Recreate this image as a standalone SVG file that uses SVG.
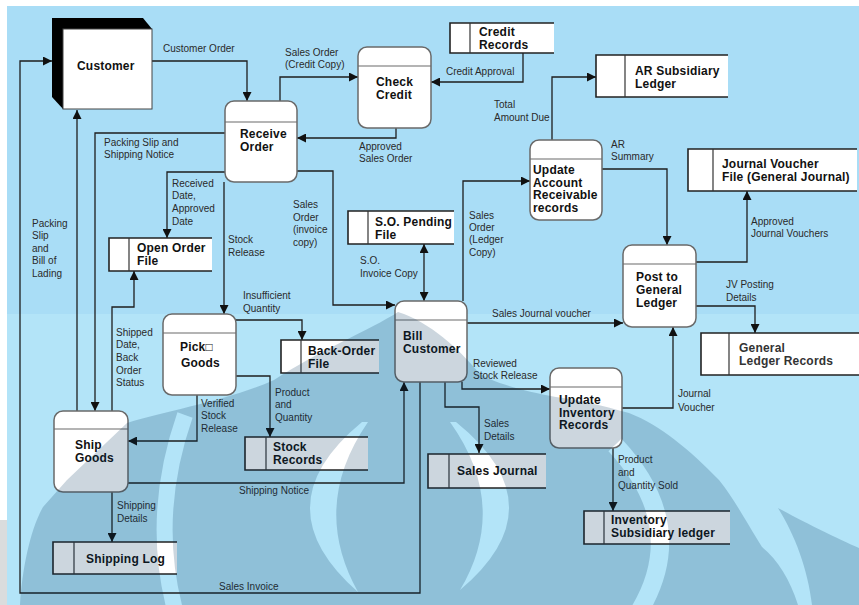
<svg xmlns="http://www.w3.org/2000/svg" width="859" height="605" viewBox="0 0 859 605">
<defs>
<style>
.lbl{font-family:"Liberation Sans",Arial,sans-serif;font-size:10px;fill:#2a2a2a}
.nt{font-family:"Liberation Sans",Arial,sans-serif;font-size:12px;font-weight:bold;fill:#111;letter-spacing:0.2px}
.proc{fill:#fff;stroke:#6a6a6a;stroke-width:1.5}
.hdr{stroke:#6a6a6a;stroke-width:1.2}
.sfill{fill:#fff}
.sedge{fill:none;stroke:#222;stroke-width:1.6}
.sdiv{stroke:#333;stroke-width:1.2}
.cn{fill:none;stroke:#1e1e1e;stroke-width:1.3}
</style>
<marker id="ah" viewBox="0 0 10 10" refX="10" refY="5" markerWidth="9" markerHeight="9" markerUnits="userSpaceOnUse" orient="auto-start-reverse">
<path d="M0,0 L10,5 L0,10 Z" fill="#111"/>
</marker>
<mask id="wm" maskUnits="userSpaceOnUse" x="0" y="0" width="859" height="605">
<path fill="#fff" d="M 398 312 C 370 330 320 350 274 380 C 230 400 170 410 127 423 L 67 480 L 43 507 C 30 530 22 570 20 605 L 798 605 C 790 580 778 560 762 547 C 745 520 735 500 719 480 C 690 450 660 425 629 413 C 600 405 580 400 556 397 C 520 390 490 382 478 372 C 460 350 430 322 398 312 Z"/>
<path fill="#fff" d="M 778 508 C 800 520 840 540 859 548 L 859 605 L 812 605 C 808 570 795 535 778 508 Z"/>
<path fill="#000" d="M 362 422 Q 260 506 358 592 Q 310 506 368 422 Z"/>
<path fill="#000" d="M 456 422 Q 560 506 460 590 Q 510 506 450 422 Z"/>
<path fill="none" stroke="#000" stroke-width="16" d="M 185 415 Q 150 515 175 610"/>
<path fill="none" stroke="#000" stroke-width="18" d="M 615 445 Q 690 525 640 610"/>
</mask>
</defs>

<g id="background">
<rect width="859" height="605" fill="#fff"/>
<rect x="7" y="6" width="852" height="308" fill="#a9ddf6"/>
<rect x="7" y="314" width="852" height="291" fill="#b3e4f8"/>
<rect x="0" y="520" width="7" height="85" fill="#dadcdd"/>
</g>

<g id="connectors">
<polyline class="cn" points="152,61 247,61 247,101" marker-end="url(#ah)"/>
<polyline class="cn" points="280,101 280,77 358,77" marker-end="url(#ah)"/>
<polyline class="cn" points="523,53 523,82 431,82" marker-end="url(#ah)"/>
<polyline class="cn" points="396,128 396,138 297,138" marker-end="url(#ah)"/>
<polyline class="cn" points="552,140 552,77 596,77" marker-end="url(#ah)"/>
<polyline class="cn" points="602,169 667,169 667,245" marker-end="url(#ah)"/>
<polyline class="cn" points="463,301 463,181 530,181" marker-end="url(#ah)"/>
<polyline class="cn" points="696,262 747,262 747,191" marker-end="url(#ah)"/>
<polyline class="cn" points="696,306 755,306 755,333" marker-end="url(#ah)"/>
<polyline class="cn" points="467,323 623,323" marker-end="url(#ah)"/>
<polyline class="cn" points="622,408 673,408 673,327" marker-end="url(#ah)"/>
<polyline class="cn" points="462,382 462,389 550,389" marker-end="url(#ah)"/>
<polyline class="cn" points="613,448 613,511" marker-end="url(#ah)"/>
<polyline class="cn" points="445,382 445,407 479,407 479,453" marker-end="url(#ah)"/>
<polyline class="cn" points="420,382 420,593 20,593 20,61 52,61" marker-end="url(#ah)"/>
<polyline class="cn" points="128,483 404,483 404,382" marker-end="url(#ah)"/>
<polyline class="cn" points="112,492 112,542" marker-end="url(#ah)"/>
<polyline class="cn" points="197,395 197,441 128,441" marker-end="url(#ah)"/>
<polyline class="cn" points="236,376 270,376 270,437" marker-end="url(#ah)"/>
<polyline class="cn" points="236,320 302,320 302,340" marker-end="url(#ah)"/>
<polyline class="cn" points="224,182 224,314" marker-end="url(#ah)"/>
<polyline class="cn" points="225,172 167,172 167,238" marker-end="url(#ah)"/>
<polyline class="cn" points="225,133 95,133 95,411" marker-end="url(#ah)"/>
<polyline class="cn" points="77,411 77,110" marker-end="url(#ah)"/>
<polyline class="cn" points="112,411 112,307 134,307 134,271" marker-end="url(#ah)"/>
<polyline class="cn" points="297,171 333,171 333,305 395,305" marker-end="url(#ah)"/>
<polyline class="cn" points="424,244 424,301" marker-start="url(#ah)" marker-end="url(#ah)"/>
</g>

<g id="labels">
<text class="lbl" x="163" y="52">Customer Order</text>
<text class="lbl" x="285" y="56">Sales Order<tspan x="285" y="68">(Credit Copy)</tspan></text>
<text class="lbl" x="446" y="75">Credit Approval</text>
<text class="lbl" x="359" y="150">Approved<tspan x="359" y="162">Sales Order</tspan></text>
<text class="lbl" x="494" y="108">Total<tspan x="494" y="121">Amount Due</tspan></text>
<text class="lbl" x="611" y="148">AR<tspan x="611" y="160">Summary</tspan></text>
<text class="lbl" x="469" y="219">Sales<tspan x="469" y="231">Order</tspan><tspan x="469" y="243">(Ledger</tspan><tspan x="469" y="256">Copy)</tspan></text>
<text class="lbl" x="751" y="225">Approved<tspan x="751" y="237">Journal Vouchers</tspan></text>
<text class="lbl" x="726" y="288">JV Posting<tspan x="726" y="301">Details</tspan></text>
<text class="lbl" x="492" y="317">Sales Journal voucher</text>
<text class="lbl" x="678" y="397">Journal<tspan x="678" y="411">Voucher</tspan></text>
<text class="lbl" x="473" y="367">Reviewed<tspan x="473" y="379">Stock Release</tspan></text>
<text class="lbl" x="618" y="463">Product<tspan x="618" y="476">and</tspan><tspan x="618" y="489">Quantity Sold</tspan></text>
<text class="lbl" x="484" y="427">Sales<tspan x="484" y="440">Details</tspan></text>
<text class="lbl" x="219" y="590">Sales Invoice</text>
<text class="lbl" x="239" y="494">Shipping Notice</text>
<text class="lbl" x="117" y="509">Shipping<tspan x="117" y="522">Details</tspan></text>
<text class="lbl" x="201" y="407">Verified<tspan x="201" y="419">Stock</tspan><tspan x="201" y="432">Release</tspan></text>
<text class="lbl" x="275" y="396">Product<tspan x="275" y="408">and</tspan><tspan x="275" y="421">Quantity</tspan></text>
<text class="lbl" x="243" y="299">Insufficient<tspan x="243" y="312">Quantity</tspan></text>
<text class="lbl" x="228" y="243">Stock<tspan x="228" y="256">Release</tspan></text>
<text class="lbl" x="172" y="187">Received<tspan x="172" y="199">Date,</tspan><tspan x="172" y="212">Approved</tspan><tspan x="172" y="225">Date</tspan></text>
<text class="lbl" x="104" y="146">Packing Slip and<tspan x="104" y="158">Shipping Notice</tspan></text>
<text class="lbl" x="32" y="227">Packing<tspan x="32" y="239">Slip</tspan><tspan x="32" y="252">and</tspan><tspan x="32" y="264">Bill of</tspan><tspan x="32" y="277">Lading</tspan></text>
<text class="lbl" x="116" y="336">Shipped<tspan x="116" y="348">Date,</tspan><tspan x="116" y="361">Back</tspan><tspan x="116" y="374">Order</tspan><tspan x="116" y="386">Status</tspan></text>
<text class="lbl" x="293" y="208">Sales<tspan x="293" y="221">Order</tspan><tspan x="293" y="233">(invoice</tspan><tspan x="293" y="246">copy)</tspan></text>
<text class="lbl" x="360" y="264">S.O.<tspan x="360" y="277">Invoice Copy</tspan></text>
</g>

<g id="customer">
<polygon points="52,18 143,18 152,29 152,109 63,109 52,97" fill="#000"/>
<rect x="63" y="29" width="89" height="80" fill="#fff" stroke="#444" stroke-width="1"/>
<text class="nt" x="77" y="70">Customer</text>
</g>

<g id="receive-order">
<rect class="proc" x="225" y="101" width="72" height="81" rx="9"/>
<line class="hdr" x1="225" y1="122" x2="297" y2="122"/>
<text class="nt" x="240" y="138">Receive<tspan x="240" y="151">Order</tspan></text>
</g>
<g id="check-credit">
<rect class="proc" x="358" y="47" width="73" height="81" rx="9"/>
<line class="hdr" x1="358" y1="66" x2="431" y2="66"/>
<text class="nt" x="376" y="86">Check<tspan x="376" y="99">Credit</tspan></text>
</g>
<g id="update-ar">
<rect class="proc" x="530" y="140" width="72" height="80" rx="9"/>
<line class="hdr" x1="530" y1="159" x2="602" y2="159"/>
<text class="nt" x="533" y="174">Update<tspan x="533" y="186.5">Account</tspan><tspan x="533" y="199">Receivable</tspan><tspan x="533" y="211.5">records</tspan></text>
</g>
<g id="post-gl">
<rect class="proc" x="623" y="245" width="73" height="82" rx="9"/>
<line class="hdr" x1="623" y1="264" x2="696" y2="264"/>
<text class="nt" x="636" y="281">Post to<tspan x="636" y="294">General</tspan><tspan x="636" y="307">Ledger</tspan></text>
</g>
<g id="bill-customer">
<rect class="proc" x="395" y="301" width="72" height="81" rx="9"/>
<line class="hdr" x1="395" y1="320" x2="467" y2="320"/>
<text class="nt" x="403" y="340">Bill<tspan x="403" y="353">Customer</tspan></text>
</g>
<g id="pick-goods">
<rect class="proc" x="163" y="314" width="73" height="81" rx="9"/>
<line class="hdr" x1="163" y1="333" x2="236" y2="333"/>
<text class="nt" x="180" y="351">Pick□<tspan x="181" y="367">Goods</tspan></text>
</g>
<g id="ship-goods">
<rect class="proc" x="54" y="411" width="74" height="81" rx="9"/>
<line class="hdr" x1="54" y1="429" x2="128" y2="429"/>
<text class="nt" x="75" y="449">Ship<tspan x="75" y="462">Goods</tspan></text>
</g>
<g id="update-inventory">
<rect class="proc" x="550" y="368" width="72" height="80" rx="9"/>
<line class="hdr" x1="550" y1="387" x2="622" y2="387"/>
<text class="nt" x="559" y="404">Update<tspan x="559" y="416.5">Inventory</tspan><tspan x="559" y="429">Records</tspan></text>
</g>

<g id="credit-records">
<rect class="sfill" x="450" y="23" width="104" height="30"/>
<path class="sedge" d="M554 23 H450 V53 H554"/>
<line class="sdiv" x1="470" y1="23" x2="470" y2="53"/>
<text class="nt" x="479" y="36">Credit<tspan x="479" y="49">Records</tspan></text>
</g>
<g id="ar-subsidiary-ledger">
<rect class="sfill" x="596" y="55" width="132" height="42"/>
<path class="sedge" d="M728 55 H596 V97 H728"/>
<line class="sdiv" x1="625" y1="55" x2="625" y2="97"/>
<text class="nt" x="635" y="75">AR Subsidiary<tspan x="635" y="88">Ledger</tspan></text>
</g>
<g id="journal-voucher-file">
<rect class="sfill" x="688" y="149" width="169" height="42"/>
<path class="sedge" d="M857 149 H688 V191 H857"/>
<line class="sdiv" x1="713" y1="149" x2="713" y2="191"/>
<text class="nt" x="722" y="168">Journal Voucher<tspan x="722" y="181">File (General Journal)</tspan></text>
</g>
<g id="so-pending-file">
<rect class="sfill" x="348" y="211" width="106" height="33"/>
<path class="sedge" d="M454 211 H348 V244 H454"/>
<line class="sdiv" x1="368" y1="211" x2="368" y2="244"/>
<text class="nt" x="375" y="226">S.O. Pending<tspan x="375" y="239">File</tspan></text>
</g>
<g id="open-order-file">
<rect class="sfill" x="109" y="238" width="103" height="33"/>
<path class="sedge" d="M212 238 H109 V271 H212"/>
<line class="sdiv" x1="129" y1="238" x2="129" y2="271"/>
<text class="nt" x="137" y="252">Open Order<tspan x="137" y="265">File</tspan></text>
</g>
<g id="back-order-file">
<rect class="sfill" x="281" y="340" width="98" height="33"/>
<path class="sedge" d="M379 340 H281 V373 H379"/>
<line class="sdiv" x1="301" y1="340" x2="301" y2="373"/>
<text class="nt" x="308" y="355">Back-Order<tspan x="308" y="368">File</tspan></text>
</g>
<g id="general-ledger-records">
<rect class="sfill" x="701" y="333" width="158" height="42"/>
<path class="sedge" d="M859 333 H701 V375 H859"/>
<line class="sdiv" x1="729" y1="333" x2="729" y2="375"/>
<text class="nt" x="739" y="352" style="fill:#333">General<tspan x="739" y="365">Ledger Records</tspan></text>
</g>
<g id="stock-records">
<rect class="sfill" x="245" y="437" width="123" height="33"/>
<path class="sedge" d="M368 437 H245 V470 H368"/>
<line class="sdiv" x1="266" y1="437" x2="266" y2="470"/>
<text class="nt" x="273" y="451">Stock<tspan x="273" y="464">Records</tspan></text>
</g>
<g id="sales-journal">
<rect class="sfill" x="428" y="454" width="118" height="34"/>
<path class="sedge" d="M546 454 H428 V488 H546"/>
<line class="sdiv" x1="449" y1="454" x2="449" y2="488"/>
<text class="nt" x="457" y="475">Sales Journal</text>
</g>
<g id="inventory-subsidiary-ledger">
<rect class="sfill" x="584" y="511" width="146" height="33"/>
<path class="sedge" d="M730 511 H584 V544 H730"/>
<line class="sdiv" x1="604" y1="511" x2="604" y2="544"/>
<text class="nt" x="611" y="524">Inventory<tspan x="611" y="537">Subsidiary ledger</tspan></text>
</g>
<g id="shipping-log">
<rect class="sfill" x="53" y="542" width="124" height="32"/>
<path class="sedge" d="M177 542 H53 V574 H177"/>
<line class="sdiv" x1="74" y1="542" x2="74" y2="574"/>
<text class="nt" x="86" y="563">Shipping Log</text>
</g>

<g id="watermark">
<rect x="0" y="0" width="859" height="605" fill="#003058" fill-opacity="0.2" mask="url(#wm)"/>
</g>
</svg>
